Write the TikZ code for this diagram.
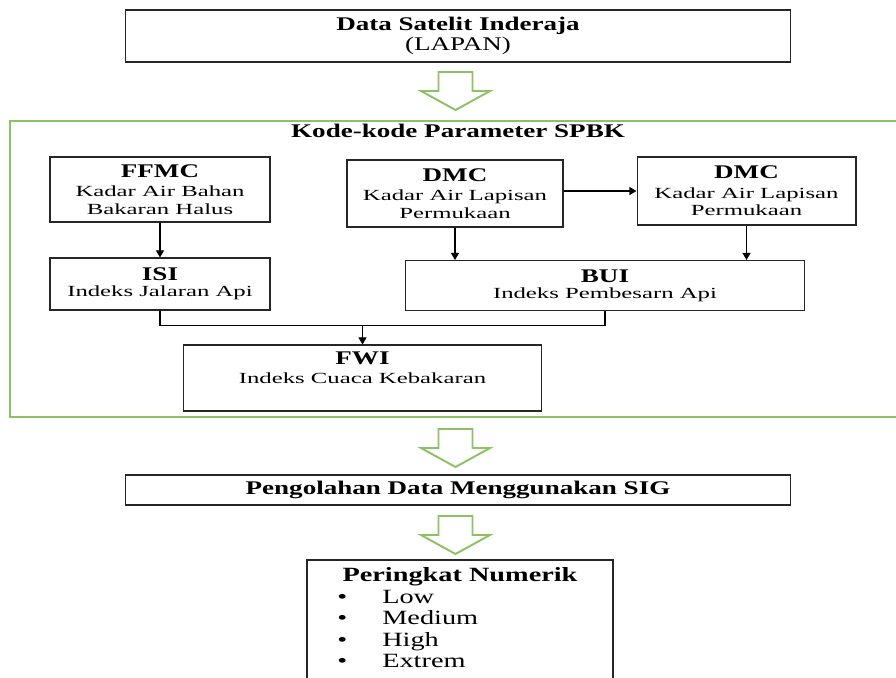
\documentclass[tikz,border=0pt]{standalone}
\usepackage{fontspec}
\setmainfont[FakeStretch=1.4]{Liberation Serif}
\newfontfamily\subfont[FakeStretch=1.6]{Liberation Serif}
\usetikzlibrary{arrows.meta,calc}
\definecolor{frameg}{RGB}{140,194,100}
\newcommand\hd[1]{{\fontsize{11}{13}\selectfont\bfseries #1}}
\newcommand\subtxt[1]{{\subfont\fontsize{8.8}{9}\selectfont #1}}
\tikzset{
  box/.style={draw=black!85,line width=0.6pt,inner sep=0pt,align=center},
  conn/.style={-{Triangle[width=4.5pt,length=4pt]},line width=0.6pt},
  greenline/.style={draw=frameg,line width=1.1pt},
  hollow arrow/.pic={\draw[greenline,fill=white,line join=miter]
    (-17,0) -- (17,0) -- (17,19) -- (34.5,19) -- (0,38) -- (-34.5,19) -- (-17,19) -- cycle;}
}
\begin{document}
\begin{tikzpicture}[x=0.02cm,y=-0.02cm]
\useasboundingbox (0,0) rectangle (896,677);
% sumber data
\node[box,minimum width=13.32cm,minimum height=1.04cm] (sat) at (458,36)
  {\hd{Data Satelit Inderaja}\\[-1pt]{\fontsize{11}{13}\selectfont (LAPAN)}};
\pic at (455.5,72) {hollow arrow};
% kotak parameter
\draw[greenline] (10,121) rectangle (910,417);
\node (spbk) at (458,131) {\hd{Kode-kode Parameter SPBK}};
\node[box,minimum width=4.4cm,minimum height=1.3cm] (ffmc) at (160,189.5)
  {\hd{FFMC}\\[-1pt]\subtxt{Kadar Air Bahan}\\[-2pt]\subtxt{Bakaran Halus}};
\node[box,minimum width=4.32cm,minimum height=1.34cm] (dmcA) at (455,193.5)
  {\hd{DMC}\\[-1pt]\subtxt{Kadar Air Lapisan}\\[-2pt]\subtxt{Permukaan}};
\node[box,minimum width=4.38cm,minimum height=1.36cm] (dmcB) at (746.5,191)
  {\hd{DMC}\\[-1pt]\subtxt{Kadar Air Lapisan}\\[-2pt]\subtxt{Permukaan}};
\node[box,minimum width=4.4cm,minimum height=1.04cm] (isi) at (160,284)
  {\hd{ISI}\\[-3pt]\subtxt{Indeks Jalaran Api}};
\node[box,minimum width=8cm,minimum height=1.0cm] (bui) at (605,285.5)
  {\hd{BUI}\\[-3pt]\subtxt{Indeks Pembesarn Api}};
\node[box,minimum width=7.18cm,minimum height=1.32cm] (fwi) at (362.5,378)
  {\hd{FWI}\\[-1pt]\subtxt{Indeks Cuaca Kebakaran}\\[0pt]};
\draw[conn] (ffmc.south) -- (isi.north);
\draw[conn] (dmcA.south) -- (dmcA.south |- bui.north);
\draw[conn] (dmcB.south) -- (dmcB.south |- bui.north);
\draw[conn] (dmcA.east |- dmcB.west) -- (dmcB.west);
\draw[line width=0.6pt] (isi.south) -- ++(0,15) coordinate (gab) -| (bui.south);
\draw[conn] (fwi.north |- gab) -- (fwi.north);
% pengolahan
\pic at (455.5,429) {hollow arrow};
\node[box,minimum width=13.32cm,minimum height=0.6cm] (sig) at (458,490)
  {\hd{Pengolahan Data Menggunakan SIG}};
\pic at (455.5,516) {hollow arrow};
\draw[draw=black!85,line width=0.6pt] (307,560) rectangle (613,700);
\node[anchor=north,inner sep=0pt] (rank) at (460,566)
  {\fontsize{11.5}{12.3}\selectfont
   \begin{tabular}{@{\hspace{3pt}}l@{\hspace{20pt}}l@{}}
   \multicolumn{2}{c}{\bfseries Peringkat Numerik}\\
   \textbullet & Low\\
   \textbullet & Medium\\
   \textbullet & High\\
   \textbullet & Extrem
   \end{tabular}};
\end{tikzpicture}
\end{document}
